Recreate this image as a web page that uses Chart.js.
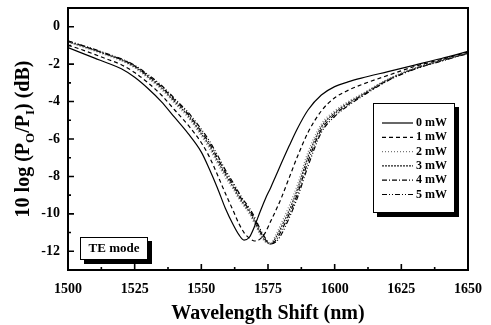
<!DOCTYPE html>
<html>
<head>
<meta charset="utf-8">
<script src="https://cdn.jsdelivr.net/npm/chart.js@4/dist/chart.umd.min.js"></script>
<style>
  html, body { margin: 0; padding: 0; background: #fff; }
  #wrap { width: 491px; height: 325px; }
</style>
</head>
<body>
<div id="wrap"><canvas id="shiftChart"></canvas></div>
<script>
// wavelength grid (nm)
const waves = [1500, 1505, 1510, 1515, 1520, 1525, 1530, 1535, 1540, 1545, 1550, 1553, 1556, 1559, 1562, 1564, 1566, 1568,
  1570, 1572, 1574, 1576, 1578, 1580, 1583, 1586, 1590, 1595, 1600, 1605, 1610, 1620, 1630, 1640, 1650];

// transmission in dB for each pump power
const p0 = [-1.12, -1.4, -1.68, -1.95, -2.25, -2.7, -3.3, -4.0, -4.85, -5.7, -6.7, -7.6, -8.6, -9.7, -10.6, -11.1, -11.4, -11.25,
  -10.65, -9.9, -9.2, -8.6, -7.95, -7.3, -6.35, -5.45, -4.45, -3.65, -3.2, -2.95, -2.75, -2.4, -2.05, -1.7, -1.32];
const p1 = [-0.98, -1.22, -1.48, -1.75, -2.03, -2.45, -3.0, -3.65, -4.45, -5.25, -6.2, -6.95, -7.9, -8.9, -9.85, -10.5, -11.0, -11.3,
  -11.45, -11.35, -11.0, -10.4, -9.8, -9.15, -8.05, -6.95, -5.65, -4.5, -3.8, -3.4, -3.1, -2.6, -2.12, -1.75, -1.35];
const p2 = [-0.82, -1.05, -1.3, -1.55, -1.82, -2.2, -2.75, -3.35, -4.1, -4.85, -5.85, -6.5, -7.3, -8.05, -8.7, -9.2, -9.6, -10.0,
  -10.55, -11.1, -11.5, -11.55, -11.1, -10.5, -9.55, -8.45, -6.7, -5.2, -4.5, -4.0, -3.6, -2.8, -2.2, -1.78, -1.38];
const p3 = [-0.8, -1.03, -1.27, -1.52, -1.78, -2.15, -2.68, -3.27, -4.0, -4.75, -5.72, -6.35, -7.15, -7.9, -8.58, -9.08, -9.5, -9.88,
  -10.42, -11.0, -11.45, -11.6, -11.25, -10.7, -9.8, -8.7, -6.95, -5.35, -4.6, -4.08, -3.65, -2.82, -2.23, -1.8, -1.4];
const p4 = [-0.78, -1.0, -1.24, -1.49, -1.75, -2.1, -2.62, -3.2, -3.92, -4.66, -5.6, -6.22, -7.0, -7.78, -8.46, -8.96, -9.4, -9.78,
  -10.3, -10.9, -11.38, -11.62, -11.4, -10.9, -10.0, -8.95, -7.2, -5.5, -4.7, -4.15, -3.7, -2.85, -2.25, -1.82, -1.42];
const p5 = [-0.76, -0.98, -1.21, -1.46, -1.72, -2.06, -2.56, -3.13, -3.84, -4.57, -5.48, -6.1, -6.85, -7.65, -8.35, -8.85, -9.3, -9.68,
  -10.18, -10.8, -11.3, -11.6, -11.5, -11.1, -10.2, -9.15, -7.45, -5.65, -4.8, -4.22, -3.75, -2.88, -2.27, -1.84, -1.43];

const labels = ['0 mW', '1 mW', '2 mW', '3 mW', '4 mW', '5 mW'];
const series = [p0, p1, p2, p3, p4, p5];
const dashes = [[], [4, 3], [1, 2], [2, 1], [5, 2, 1, 2], [5, 2, 1, 2, 1, 2]];
const colors = ['#000', '#000', '#777', '#222', '#000', '#000'];

const serif = '"Liberation Serif", "DejaVu Serif", serif';

const extras = {
  id: 'extras',
  afterDraw(c) {
    const { ctx, chartArea: a, scales: { x, y } } = c;
    ctx.save();
    ctx.strokeStyle = '#000';
    ctx.lineWidth = 2;
    ctx.strokeRect(a.left, a.top, a.right - a.left, a.bottom - a.top);

    // inward ticks
    ctx.lineWidth = 1.6;
    ctx.beginPath();
    x.ticks.forEach(t => {
      const px = x.getPixelForValue(t.value);
      const len = t.value % 25 === 0 ? 6 : 3;
      ctx.moveTo(px, a.bottom); ctx.lineTo(px, a.bottom - len);
    });
    y.ticks.forEach(t => {
      const py = y.getPixelForValue(t.value);
      const len = t.value % 2 === 0 ? 6 : 3;
      ctx.moveTo(a.left, py); ctx.lineTo(a.left + len, py);
    });
    ctx.stroke();

    // TE mode box
    ctx.fillStyle = '#000';
    ctx.fillRect(84, 241, 68, 23);
    ctx.fillStyle = '#fff';
    ctx.fillRect(80, 237, 68, 23);
    ctx.lineWidth = 1;
    ctx.strokeRect(80.5, 237.5, 67, 22);
    ctx.fillStyle = '#000';
    ctx.font = 'bold 13px ' + serif;
    ctx.textAlign = 'center';
    ctx.textBaseline = 'middle';
    ctx.fillText('TE mode', 114, 249);

    // legend box
    ctx.fillRect(377, 107, 82, 110);
    ctx.fillStyle = '#fff';
    ctx.fillRect(373, 103, 82, 110);
    ctx.strokeRect(373.5, 103.5, 81, 109);
    ctx.font = 'bold 12px ' + serif;
    ctx.textAlign = 'left';
    c.data.datasets.forEach((ds, i) => {
      const ly = 123 + i * 14.3;
      ctx.strokeStyle = ds.borderColor;
      ctx.lineWidth = 1.2;
      ctx.setLineDash(ds.borderDash);
      ctx.beginPath();
      ctx.moveTo(382, ly); ctx.lineTo(413, ly);
      ctx.stroke();
      ctx.setLineDash([]);
      ctx.fillStyle = '#000';
      ctx.fillText(ds.label, 416, ly);
    });

    // axis titles
    ctx.font = 'bold 20px ' + serif;
    ctx.textAlign = 'center';
    ctx.textBaseline = 'alphabetic';
    ctx.fillText('Wavelength Shift (nm)', (a.left + a.right) / 2, 319);

    const parts = [['10 log (P', 20, 0], ['O', 13, 5], ['/P', 20, 0], ['I', 13, 5], [') (dB)', 20, 0]];
    let total = 0;
    parts.forEach(p => { ctx.font = 'bold ' + p[1] + 'px ' + serif; total += ctx.measureText(p[0]).width; });
    ctx.translate(29, (a.top + a.bottom) / 2);
    ctx.rotate(-Math.PI / 2);
    ctx.textAlign = 'left';
    let pos = -total / 2;
    parts.forEach(p => {
      ctx.font = 'bold ' + p[1] + 'px ' + serif;
      ctx.fillText(p[0], pos, p[2]);
      pos += ctx.measureText(p[0]).width;
    });
    ctx.restore();
  }
};

new Chart(document.getElementById('shiftChart'), {
  type: 'line',
  data: {
    datasets: series.map((s, i) => ({
      label: labels[i],
      data: waves.map((w, j) => ({ x: w, y: s[j] })),
      borderColor: colors[i],
      borderWidth: 1.2,
      borderDash: dashes[i],
      pointRadius: 0,
      cubicInterpolationMode: 'monotone',
      fill: false
    }))
  },
  options: {
    responsive: true,
    maintainAspectRatio: false,
    animation: false,
    layout: { padding: { top: 8, right: 23, left: 0, bottom: 0 } },
    plugins: { legend: { display: false }, tooltip: { enabled: false } },
    scales: {
      x: {
        type: 'linear', min: 1500, max: 1650,
        afterFit: s => { s.height = 55; s.paddingLeft = 0; s.paddingRight = 0; },
        grid: { display: false, drawTicks: false },
        border: { display: false },
        ticks: {
          stepSize: 12.5, padding: 11, color: '#000', autoSkip: false, maxRotation: 0,
          font: { family: serif, size: 14, weight: 'bold' },
          callback: v => (v % 25 === 0 ? v : '')
        }
      },
      y: {
        min: -13, max: 1,
        afterFit: s => { s.width = 68; s.paddingTop = 0; s.paddingBottom = 0; },
        grid: { display: false, drawTicks: false },
        border: { display: false },
        ticks: {
          stepSize: 1, padding: 8, color: '#000', autoSkip: false,
          font: { family: serif, size: 14, weight: 'bold' },
          callback: v => (v % 2 === 0 && v <= 0 ? String(v) : '')
        }
      }
    }
  },
  plugins: [extras]
});
</script>
</body>
</html>
